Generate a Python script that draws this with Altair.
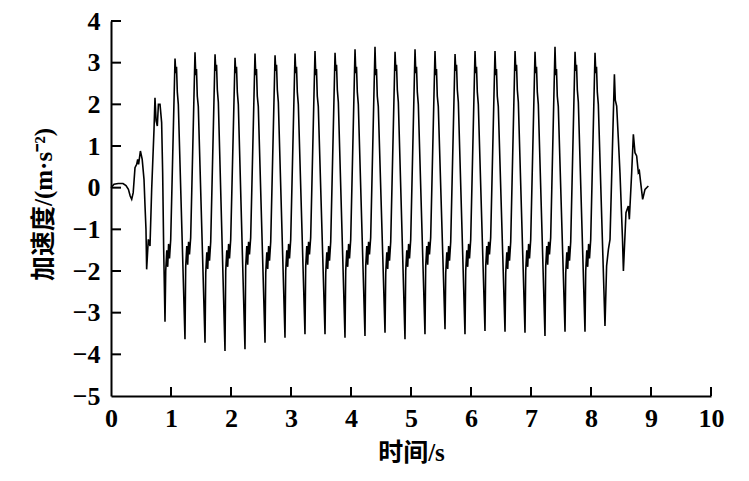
import altair as alt
import pandas as pd

# ---- data (time in s, acceleration in m/s^2) ----
t_start = [0.000, 0.050, 0.120, 0.200, 0.250, 0.290, 0.320, 0.345, 0.370, 0.400,
           0.428, 0.445, 0.460, 0.490, 0.520, 0.550, 0.567, 0.583, 0.594, 0.622,
           0.650, 0.678, 0.717, 0.733, 0.752, 0.772, 0.790, 0.817, 0.844, 0.861, 0.878]
a_start = [0.00, 0.08, 0.10, 0.10, 0.05, -0.04, -0.20, -0.28, -0.12, 0.48,
           0.56, 0.68, 0.56, 0.88, 0.68, 0.20, -0.44, -1.00, -1.96, -1.24,
           -1.40, -0.04, 1.40, 2.16, 1.60, 1.48, 2.00, 2.00, 1.56, 0.36, -1.48]

t_main = [
    0.900, 0.912, 0.930, 0.945, 0.960, 0.975, 0.995, 1.067, 1.080, 1.092, 1.105, 1.122,
    1.233, 1.245, 1.263, 1.278, 1.293, 1.308, 1.328, 1.400, 1.413, 1.425, 1.438, 1.455,
    1.567, 1.579, 1.597, 1.612, 1.627, 1.642, 1.662, 1.734, 1.747, 1.759, 1.772, 1.789,
    1.900, 1.912, 1.930, 1.945, 1.960, 1.975, 1.995, 2.067, 2.080, 2.092, 2.105, 2.122,
    2.233, 2.245, 2.263, 2.278, 2.293, 2.308, 2.328, 2.400, 2.413, 2.425, 2.438, 2.455,
    2.567, 2.579, 2.597, 2.612, 2.627, 2.642, 2.662, 2.734, 2.747, 2.759, 2.772, 2.789,
    2.900, 2.912, 2.930, 2.945, 2.960, 2.975, 2.995, 3.067, 3.080, 3.092, 3.105, 3.122,
    3.233, 3.245, 3.263, 3.278, 3.293, 3.308, 3.328, 3.400, 3.413, 3.425, 3.438, 3.455,
    3.567, 3.579, 3.597, 3.612, 3.627, 3.642, 3.662, 3.734, 3.747, 3.759, 3.772, 3.789,
    3.900, 3.912, 3.930, 3.945, 3.960, 3.975, 3.995, 4.067, 4.080, 4.092, 4.105, 4.122,
    4.233, 4.245, 4.263, 4.278, 4.293, 4.308, 4.328, 4.400, 4.413, 4.425, 4.438, 4.455,
    4.567, 4.579, 4.597, 4.612, 4.627, 4.642, 4.662, 4.734, 4.747, 4.759, 4.772, 4.789,
    4.900, 4.912, 4.930, 4.945, 4.960, 4.975, 4.995, 5.067, 5.080, 5.092, 5.105, 5.122,
    5.233, 5.245, 5.263, 5.278, 5.293, 5.308, 5.328, 5.400, 5.413, 5.425, 5.438, 5.455,
    5.567, 5.579, 5.597, 5.612, 5.627, 5.642, 5.662, 5.734, 5.747, 5.759, 5.772, 5.789,
    5.900, 5.912, 5.930, 5.945, 5.960, 5.975, 5.995, 6.067, 6.080, 6.092, 6.105, 6.122,
    6.233, 6.245, 6.263, 6.278, 6.293, 6.308, 6.328, 6.400, 6.413, 6.425, 6.438, 6.455,
    6.567, 6.579, 6.597, 6.612, 6.627, 6.642, 6.662, 6.734, 6.747, 6.759, 6.772, 6.789,
    6.900, 6.912, 6.930, 6.945, 6.960, 6.975, 6.995, 7.067, 7.080, 7.092, 7.105, 7.122,
    7.233, 7.245, 7.263, 7.278, 7.293, 7.308, 7.328, 7.400, 7.413, 7.425, 7.438, 7.455,
    7.567, 7.579, 7.597, 7.612, 7.627, 7.642, 7.662, 7.734, 7.747, 7.759, 7.772, 7.789,
    7.900, 7.912, 7.930, 7.945, 7.960, 7.975, 7.995, 8.067, 8.080, 8.092, 8.105, 8.122,
]
a_main = [
    -3.22, -2.00, -1.50, -1.90, -1.35, -1.70, -1.25, 3.10, 2.75, 2.90, 2.30, 2.00,
    -3.64, -1.90, -1.40, -1.85, -1.30, -1.60, -1.20, 3.25, 2.70, 2.85, 2.20, 1.95,
    -3.72, -2.05, -1.55, -1.95, -1.40, -1.75, -1.30, 3.20, 2.80, 2.95, 2.35, 2.05,
    -3.92, -2.00, -1.50, -1.90, -1.35, -1.70, -1.25, 3.12, 2.75, 2.90, 2.30, 2.00,
    -3.88, -1.90, -1.40, -1.85, -1.30, -1.60, -1.20, 3.22, 2.70, 2.85, 2.20, 1.95,
    -3.72, -2.05, -1.55, -1.95, -1.40, -1.75, -1.30, 3.18, 2.80, 2.95, 2.35, 2.05,
    -3.60, -2.00, -1.50, -1.90, -1.35, -1.70, -1.25, 3.22, 2.75, 2.90, 2.30, 2.00,
    -3.52, -1.90, -1.40, -1.85, -1.30, -1.60, -1.20, 3.28, 2.70, 2.85, 2.20, 1.95,
    -3.52, -2.05, -1.55, -1.95, -1.40, -1.75, -1.30, 3.24, 2.80, 2.95, 2.35, 2.05,
    -3.60, -2.00, -1.50, -1.90, -1.35, -1.70, -1.25, 3.32, 2.75, 2.90, 2.30, 2.00,
    -3.56, -1.90, -1.40, -1.85, -1.30, -1.60, -1.20, 3.38, 2.70, 2.85, 2.20, 1.95,
    -3.48, -2.05, -1.55, -1.95, -1.40, -1.75, -1.30, 3.26, 2.80, 2.95, 2.35, 2.05,
    -3.64, -2.00, -1.50, -1.90, -1.35, -1.70, -1.25, 3.32, 2.75, 2.90, 2.30, 2.00,
    -3.52, -1.90, -1.40, -1.85, -1.30, -1.60, -1.20, 3.28, 2.70, 2.85, 2.20, 1.95,
    -3.40, -2.05, -1.55, -1.95, -1.40, -1.75, -1.30, 3.21, 2.80, 2.95, 2.35, 2.05,
    -3.52, -2.00, -1.50, -1.90, -1.35, -1.70, -1.25, 3.28, 2.75, 2.90, 2.30, 2.00,
    -3.44, -1.90, -1.40, -1.85, -1.30, -1.60, -1.20, 3.28, 2.70, 2.85, 2.20, 1.95,
    -3.46, -2.05, -1.55, -1.95, -1.40, -1.75, -1.30, 3.28, 2.80, 2.95, 2.35, 2.05,
    -3.48, -2.00, -1.50, -1.90, -1.35, -1.70, -1.25, 3.26, 2.75, 2.90, 2.30, 2.00,
    -3.56, -1.90, -1.40, -1.85, -1.30, -1.60, -1.20, 3.38, 2.70, 2.85, 2.20, 1.95,
    -3.46, -2.05, -1.55, -1.95, -1.40, -1.75, -1.30, 3.26, 2.80, 2.95, 2.35, 2.05,
    -3.46, -2.00, -1.50, -1.90, -1.35, -1.70, -1.25, 3.24, 2.75, 2.90, 2.30, 2.00,
]

t_end = [8.233, 8.260, 8.290, 8.317, 8.390, 8.405, 8.428, 8.456, 8.483, 8.525,
         8.540, 8.583, 8.622, 8.639, 8.678, 8.706, 8.733, 8.761, 8.789, 8.806,
         8.828, 8.861, 8.900, 8.956]
a_end = [-3.32, -1.88, -1.48, -1.24, 2.72, 2.10, 1.96, 1.16, 0.36, -1.24,
         -2.00, -0.60, -0.44, -0.76, 0.36, 1.28, 0.84, 0.76, 0.36, 0.40,
         0.12, -0.28, -0.04, 0.04]

x_ticks = [0, 1, 2, 3, 4, 5, 6, 7, 8, 9, 10]
y_ticks = [-5, -4, -3, -2, -1, 0, 1, 2, 3, 4]

x_title = "时间/s"
y_title = "加速度/(m·s⁻²)"

# ---- chart ----
W, H = 600, 375
num_font = "Liberation Serif"
title_font = "Liberation Serif, Noto Sans CJK SC"

df = pd.DataFrame({"t": t_start + t_main + t_end, "a": a_start + a_main + a_end})

xs = alt.Scale(domain=[0, 10], nice=False, zero=False)
ys = alt.Scale(domain=[-5, 4], nice=False, zero=False)

x_axis = alt.Axis(
    values=x_ticks, format="d", ticks=False, grid=False,
    domainColor="black", domainWidth=2,
    labelFont=num_font, labelFontSize=26, labelFontWeight="bold", labelColor="black",
    labelPadding=9, labelFlush=False, labelOverlap=False,
    title=x_title, titleFont=title_font, titleFontSize=25, titleFontWeight="bold",
    titleColor="black", titleY=56, titleBaseline="middle",
)
y_axis = alt.Axis(
    values=y_ticks, format="d", ticks=False, grid=False,
    domainColor="black", domainWidth=2,
    labelFont=num_font, labelFontSize=26, labelFontWeight="bold", labelColor="black",
    labelPadding=11, labelFlush=False, labelOverlap=False,
    title=y_title, titleFont=title_font, titleFontSize=25, titleFontWeight="bold",
    titleColor="black", titleX=-68, titleY=183, titleAngle=-90, titleBaseline="middle",
)

line = alt.Chart(df).mark_line(color="black", strokeWidth=1.6).encode(
    x=alt.X("t:Q", scale=xs, axis=x_axis),
    y=alt.Y("a:Q", scale=ys, axis=y_axis),
)

xt = alt.Chart(pd.DataFrame({"t": x_ticks[1:]})).mark_rule(color="black", strokeWidth=2).encode(
    x=alt.X("t:Q", scale=xs, axis=x_axis),
    y=alt.value(H),
    y2=alt.value(H - 9),
)
yt = alt.Chart(pd.DataFrame({"a": y_ticks[1:]})).mark_rule(color="black", strokeWidth=2).encode(
    y=alt.Y("a:Q", scale=ys, axis=y_axis),
    x=alt.value(0),
    x2=alt.value(10),
)

chart = alt.layer(line, xt, yt).properties(
    width=W, height=H,
    background="white",
    autosize=alt.AutoSizeParams(type="none"),
    padding={"left": 103, "top": 13, "right": 30, "bottom": 76},
).configure_view(stroke=None)

chart.save("out.html", embed_options={"renderer": "svg", "actions": False})
